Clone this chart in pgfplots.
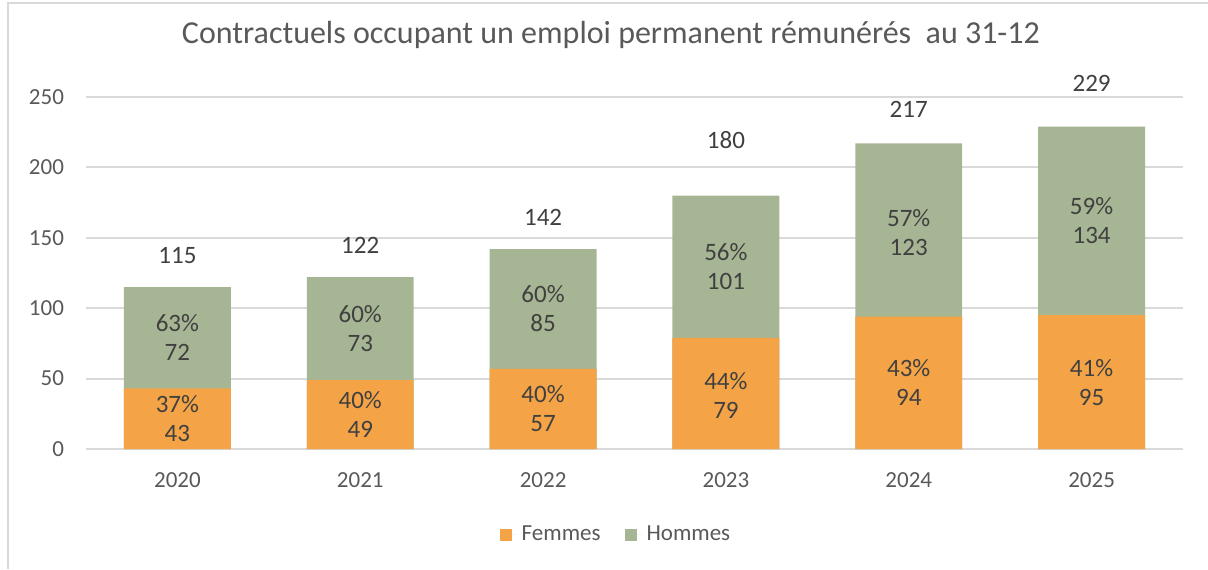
\documentclass[border=0pt]{standalone}
\usepackage{pgfplots}
\pgfplotsset{compat=1.18}
\usepackage{pgfplotstable}
\usepackage{fontspec}
\setmainfont{Carlito}
\definecolor{femmes}{HTML}{F4A446}
\definecolor{hommes}{HTML}{A6B593}
\definecolor{txt}{HTML}{595959}
\definecolor{lbl}{HTML}{404040}
\definecolor{grd}{HTML}{D9D9D9}
\pgfplotstableread{
x f h t
0 43 72 115
1 49 73 122
2 57 85 142
3 79 101 180
4 94 123 217
5 95 134 229
}\data
\begin{document}
\begin{tikzpicture}
\path[use as bounding box] (0,0) rectangle (604pt,284.5pt);
\begin{axis}[
  at={(43pt,60pt)}, anchor=south west,
  scale only axis, width=548.5pt, height=176pt,
  xmin=-0.5, xmax=5.5, ymin=0, ymax=250,
  ytick={0,50,100,150,200,250},
  xtick={0,1,2,3,4,5},
  xticklabels={2020,2021,2022,2023,2024,2025},
  major tick length=0pt,
  axis line style={draw=none},
  ymajorgrids, grid style={grd, line width=1pt},
  /pgf/number format/assume math mode=true,
  tick label style={font=\fontsize{11.5}{13}\selectfont, text=txt},
  yticklabel style={xshift=-7.5pt},
  xticklabel style={yshift=-8pt},
  clip=false,
  title={Contractuels occupant un emploi permanent rémunérés\ \ au 31-12},
  title style={at={(0.4785,1)}, anchor=base, yshift=21pt, font=\fontsize{16}{19}\selectfont, text=txt},
  legend style={at={(0.484,-0.244)}, anchor=center, draw=none, legend columns=2,
    font=\fontsize{11.5}{13}\selectfont, text=txt,
    /tikz/every even column/.append style={column sep=10pt}},
  legend image code/.code={\fill[#1] (0pt,-3pt) rectangle (6pt,3pt); \path (6pt,0pt) -- (9pt,0pt);},
  reverse legend,
]
\addplot[ybar, bar width=0.585, bar shift=0pt, fill=hommes, draw=none] table[x=x, y=t] \data;
\addlegendentry{Hommes}
\addplot[ybar, bar width=0.585, bar shift=0pt, fill=femmes, draw=none] table[x=x, y=f] \data;
\addlegendentry{Femmes}
% totals
\addplot[draw=none, mark=none, forget plot, nodes near coords, point meta=explicit symbolic,
  every node near coord/.append style={anchor=south, inner sep=0pt, yshift=11.5pt, font=\fontsize{12.5}{14}\selectfont, text=lbl}]
  coordinates {(0,115) [115] (1,122) [122] (2,142) [142] (3,197) [180] (4,219) [217] (5,237.5) [229]};
% femmes labels
\addplot[draw=none, mark=none, forget plot, nodes near coords, point meta=explicit symbolic,
  every node near coord/.append style={anchor=center, align=center, inner sep=0pt, font=\fontsize{12.5}{14.5}\selectfont, text=lbl}]
  coordinates {(0,21.5) [37\%\\43] (1,24.5) [40\%\\49] (2,28.5) [40\%\\57] (3,38) [44\%\\79] (4,47) [43\%\\94] (5,47.5) [41\%\\95]};
% hommes labels
\addplot[draw=none, mark=none, forget plot, nodes near coords, point meta=explicit symbolic,
  every node near coord/.append style={anchor=center, align=center, inner sep=0pt, font=\fontsize{12.5}{14.5}\selectfont, text=lbl}]
  coordinates {(0,79) [63\%\\72] (1,85.5) [60\%\\73] (2,99.5) [60\%\\85] (3,129.5) [56\%\\101] (4,154) [57\%\\123] (5,162) [59\%\\134]};
\end{axis}
\draw[grd, line width=1pt] (4pt,0) -- (4pt,283pt) -- (604pt,283pt);
\end{tikzpicture}
\end{document}
